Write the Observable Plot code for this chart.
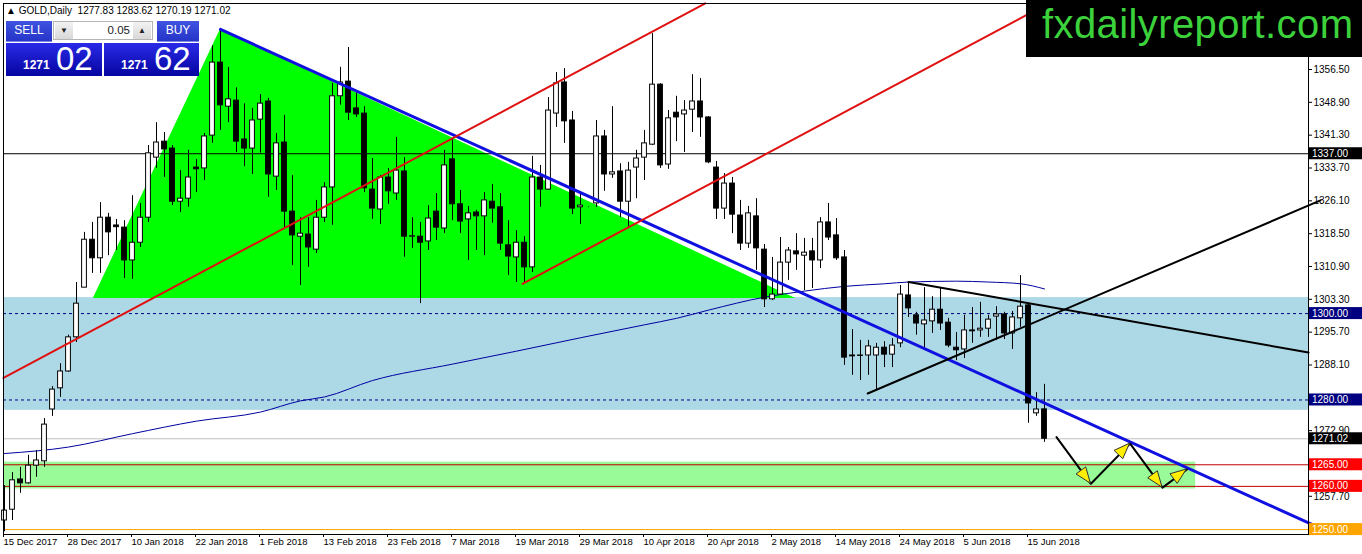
<!DOCTYPE html>
<html>
<head>
<meta charset="utf-8">
<script src="https://cdn.jsdelivr.net/npm/d3@7"></script>
<script src="https://cdn.jsdelivr.net/npm/@observablehq/plot@0.6"></script>
<style>
  body { margin: 0; background: #fff; }
  #wrap { position: relative; width: 1362px; height: 554px; overflow: hidden; font-family: "Liberation Sans", Arial, sans-serif; }
  #hdr { position: absolute; left: 6px; top: 4px; font-size: 10px; line-height: 13px; color: #000; white-space: pre; }
  .btn { position: absolute; top: 21px; height: 20px; color: #fff; font-size: 12px; line-height: 19px; text-align: center;
         background: linear-gradient(#3f52e0, #2535c8); border-bottom: 1px solid #7d8ae8; }
  #sell { left: 6px; width: 46px; }
  #buy { left: 157px; width: 42px; }
  #spin { position: absolute; left: 53px; top: 21px; width: 100px; height: 19px; background: #fff; border: 1px solid #b4b4b4; box-sizing: border-box; font-size: 11px; }
  #spin .a { position: absolute; top: 0; width: 18px; height: 17px; background: linear-gradient(#f2f2f2, #d8d8d8); text-align: center; line-height: 17px; font-size: 8px; color: #222; }
  #spin .v { position: absolute; right: 22px; top: 0; line-height: 17px; font-size: 11.5px; color: #222; }
  .px { position: absolute; top: 43px; height: 33px; background: linear-gradient(#2a2ae8, #0505a0); color: #fff; }
  .px small { position: absolute; top: 15px; font-size: 12px; font-weight: bold; }
  .px big { position: absolute; top: -3px; font-size: 33px; }
  #sp { left: 6px; width: 96px; }
  #bp { left: 104px; width: 95px; }
  #logo { position: absolute; left: 1026px; top: 0; width: 336px; height: 57px; background: #000; color: #3cd23c;
          font-size: 40px; line-height: 48px; padding-left: 16px; box-sizing: border-box; letter-spacing: 0.4px; }
</style>
</head>
<body>
<div id="wrap">
  <div id="chart"></div>
  <div id="hdr"></div>
  <div class="btn" id="sell">SELL</div>
  <div id="spin"><span class="a" style="left:1px">&#9660;</span><span class="v">0.05</span><span class="a" style="right:1px">&#9650;</span></div>
  <div class="btn" id="buy">BUY</div>
  <div class="px" id="sp"></div>
  <div class="px" id="bp"></div>
  <div id="logo">fxdailyreport.com</div>
</div>
<script>
// GOLD daily candles, 15 Dec 2017 .. 19 Jun 2018 (bar index 0..130)
const open = [1252.1,1254.6,1261.6,1260.7,1264.8,1265.8,1277.8,1282.7,1286.6,1294.5,
  1306.0,1317.1,1312.8,1322.2,1320.4,1319.9,1312.3,1316.4,1322.2,1336.1,
  1339.8,1338.2,1325.9,1326.6,1333.8,1333.6,1341.2,1358.1,1347.9,1349.3,
  1340.3,1338.2,1344.9,1349.1,1331.7,1339.6,1323.6,1317.8,1318.3,1314.8,
  1322.2,1329.2,1350.3,1353.7,1347.5,1346.3,1328.7,1324.1,1331.5,1327.8,
  1332.9,1317.8,1317.8,1316.7,1323.6,1319.7,1335.7,1325.3,1321.8,1323.4,
  1322.5,1325.9,1324.6,1315.8,1313.0,1316.4,1310.7,1331.5,1328.7,1346.3,
  1353.5,1344.7,1324.6,1324.6,1325.5,1341.0,1332.2,1332.9,1325.9,1333.8,
  1336.1,1339.1,1353.0,1334.5,1346.5,1346.1,1347.2,1349.1,1345.4,1333.8,
  1324.3,1330.1,1322.7,1316.2,1322.5,1314.8,1303.3,1304.4,1311.8,1314.4,
  1313.4,1314.4,1312.3,1321.1,1318.1,1313.0,1290.3,1290.3,1290.3,1290.3,
  1292.1,1290.5,1293.1,1304.2,1299.6,1297.5,1298.2,1300.9,1297.9,1292.1,
  1291.7,1296.1,1296.1,1296.5,1299.3,1299.8,1295.4,1298.9,1301.9,1276.9,
  1277.83]
const high = [1260.2,1263.2,1264.4,1267.2,1268.3,1275.7,1283.1,1288.4,1295.0,1307.2,
  1318.8,1321.1,1325.7,1323.2,1321.8,1321.5,1327.3,1325.5,1338.9,1344.2,
  1341.9,1338.9,1333.1,1337.8,1335.7,1341.7,1362.0,1365.8,1357.0,1352.3,
  1348.6,1347.5,1350.7,1349.8,1341.7,1345.9,1332.0,1322.2,1322.2,1326.2,
  1330.3,1353.3,1357.0,1361.6,1351.2,1347.9,1335.9,1332.0,1333.6,1340.8,
  1336.1,1322.2,1321.1,1325.0,1327.8,1337.8,1340.5,1328.5,1324.8,1323.9,
  1328.0,1329.9,1327.8,1321.5,1319.2,1317.8,1336.4,1334.3,1350.0,1355.8,
  1356.7,1346.8,1328.0,1324.7,1344.7,1342.4,1347.9,1334.7,1335.0,1337.8,
  1342.4,1364.8,1353.2,1347.0,1350.3,1349.3,1355.3,1354.4,1345.6,1335.2,
  1332.4,1331.5,1326.2,1324.8,1326.6,1316.0,1313.0,1317.6,1315.3,1318.5,
  1317.4,1317.4,1322.2,1325.5,1322.0,1314.6,1296.3,1293.8,1293.8,1293.1,
  1293.5,1294.2,1306.5,1307.2,1300.3,1306.0,1303.9,1306.0,1298.9,1295.6,
  1299.6,1301.4,1302.6,1299.6,1301.6,1300.3,1300.5,1308.8,1302.1,1281.7,
  1283.62]
const low = [1249.5,1252.1,1258.4,1260.5,1262.1,1264.4,1276.2,1280.6,1286.4,1293.3,
  1306.0,1309.3,1309.3,1313.4,1314.6,1308.1,1307.9,1315.3,1321.1,1333.6,
  1331.5,1325.0,1323.4,1324.6,1328.0,1330.8,1339.4,1342.4,1344.2,1337.3,
  1334.0,1332.2,1337.1,1326.9,1328.5,1319.9,1311.1,1306.5,1310.7,1313.9,
  1321.1,1320.4,1348.2,1344.7,1345.4,1328.0,1321.8,1320.6,1325.3,1326.2,
  1313.0,1315.1,1302.3,1314.6,1316.9,1318.5,1321.5,1318.5,1312.3,1314.6,
  1313.4,1320.9,1314.6,1308.8,1307.2,1307.0,1309.5,1324.6,1328.5,1343.1,
  1339.4,1322.9,1320.6,1324.5,1324.6,1328.3,1331.3,1322.2,1319.7,1326.6,
  1330.8,1338.9,1333.6,1333.4,1339.8,1337.3,1341.9,1340.8,1334.7,1321.8,
  1321.8,1318.5,1314.6,1315.1,1310.0,1301.4,1303.0,1304.2,1307.7,1310.0,
  1305.3,1305.8,1310.4,1316.9,1312.3,1288.0,1285.7,1284.5,1285.7,1282.2,
  1287.5,1287.5,1292.1,1299.1,1295.0,1292.1,1295.4,1296.1,1292.1,1289.1,
  1289.6,1293.1,1294.5,1294.5,1293.8,1294.0,1291.7,1296.8,1274.6,1276.2,
  1270.19]
const close = [1254.4,1261.4,1260.7,1264.8,1266.0,1274.3,1282.4,1286.6,1294.5,1302.3,
  1317.1,1312.8,1322.2,1318.8,1320.0,1312.3,1316.4,1322.2,1337.1,1339.6,
  1338.0,1325.9,1326.6,1331.5,1333.4,1341.0,1358.1,1348.2,1349.6,1339.8,
  1338.2,1344.7,1348.6,1332.2,1339.4,1323.6,1318.1,1318.5,1315.3,1322.2,
  1329.2,1350.3,1353.5,1346.5,1346.1,1329.0,1324.3,1331.5,1328.3,1333.1,
  1317.8,1317.9,1316.4,1322.0,1319.9,1334.3,1325.3,1321.3,1323.2,1322.5,
  1326.2,1324.3,1316.2,1313.2,1316.4,1310.7,1331.5,1328.7,1347.0,1353.3,
  1344.5,1324.3,1325.0,1324.6,1341.0,1332.2,1332.7,1325.9,1333.1,1335.9,
  1339.4,1353.0,1334.3,1345.2,1345.4,1347.0,1349.1,1345.4,1335.0,1324.3,
  1330.1,1322.9,1316.2,1323.2,1315.1,1303.3,1304.4,1311.8,1314.6,1313.7,
  1314.1,1312.3,1321.1,1317.6,1312.8,1289.8,1290.1,1290.2,1292.4,1292.1,
  1290.5,1292.6,1304.4,1301.2,1297.7,1298.4,1300.9,1297.7,1292.6,1291.5,
  1296.1,1295.9,1296.5,1298.6,1299.8,1295.4,1299.1,1301.6,1279.2,1277.8,
  1271.02]

const ask = 1271.62

// date axis: one label every 8 bars
const tickIdx = [0, 8, 16, 24, 32, 40, 48, 56, 64, 72, 80, 88, 96, 104, 112, 120, 128]
const tickLabels = ["15 Dec 2017", "28 Dec 2017", "10 Jan 2018", "22 Jan 2018", "1 Feb 2018", "13 Feb 2018",
  "23 Feb 2018", "7 Mar 2018", "19 Mar 2018", "29 Mar 2018", "10 Apr 2018", "20 Apr 2018", "2 May 2018",
  "14 May 2018", "24 May 2018", "5 Jun 2018", "15 Jun 2018"]
const priceTicks = [1356.5, 1348.9, 1341.3, 1333.7, 1326.1, 1318.5, 1310.9, 1303.3, 1295.7, 1288.1, 1272.9, 1257.7]

// moving average (bar index, price)
const maIdx = [0, 8, 16, 24, 32, 37, 40, 46, 56, 64, 72, 80, 84, 88, 95, 100, 105, 110, 113, 119, 123, 127, 130]
const maVal = [1267.6, 1269.1, 1272.2, 1275.1, 1277.2, 1279.8, 1280.7, 1284.5, 1288.3, 1291.3, 1294.4, 1297.4,
  1298.9, 1300.8, 1303.8, 1305.2, 1306.3, 1306.9, 1307.3, 1307.5, 1307.3, 1306.9, 1305.7]

// drawn objects
const blueZone = [1277.6, 1303.7]
const greenZone = [1259.4, 1265.6]
const greenZoneEnd = 148.9
const triIdx = [11.1, 27, 98.9]
const triTop = [1303.5, 1365.8, 1303.5]
const triBase = 1303.5
const blueTrend = [[27, 1365.8], [164.25, 1250.5]]
const redUpper = [[-0.125, 1285.1], [87.6, 1371.8]]
const redLower = [[64.75, 1306.9], [130.5, 1371.8]]
const blackUpper = [[113, 1307.3], [163, 1291.0]]
const blackLower = [[107.9, 1281.5], [164.5, 1326.2]]
const arrowPath = [[131.5, 1271.4], [135.8, 1260.6], [140.7, 1269.9], [144.75, 1259.7], [147.8, 1263.9]]
const levels = [
  {v: 1337, stroke: "#000", dash: null, tag: "#000"},
  {v: 1300, stroke: "#000080", dash: "3,3", tag: "#000080"},
  {v: 1280, stroke: "#000080", dash: "3,3", tag: "#000080"},
  {v: 1271.02, stroke: "#c0c0c0", dash: null, tag: "#000"},
  {v: 1265, stroke: "#c00000", dash: null, tag: "#ff0000"},
  {v: 1260, stroke: "#c00000", dash: null, tag: "#ff0000"},
  {v: 1250, stroke: "#ffa500", dash: null, tag: "#ffa500"}
]

const xDomain = [-0.125, 163]
const yDomain = [1248.86, 1371.78]

const bars = open.map((o, i) => ({i, o, h: high[i], l: low[i], c: close[i]}))
const ma = maIdx.map((i, k) => ({i, p: maVal[k]}))
const tri = triIdx.map((i, k) => ({i, p: triTop[k], b: triBase}))
const pts = a => a.map(([i, p]) => ({i, p}))

const chart = Plot.plot({
  width: 1362,
  height: 554,
  marginLeft: 3,
  marginRight: 54,
  marginTop: 3,
  marginBottom: 20,
  style: {fontFamily: "Liberation Sans, Arial, sans-serif", fontSize: "10px", background: "#fff", color: "#000"},
  x: {domain: xDomain, axis: null},
  y: {domain: yDomain, axis: null},
  marks: [
    Plot.rect([blueZone], {x1: xDomain[0], x2: xDomain[1], y1: d => d[0], y2: d => d[1], fill: "#add8e6"}),
    Plot.rect([greenZone], {x1: xDomain[0], x2: greenZoneEnd, y1: d => d[0], y2: d => d[1], fill: "#98fb98"}),
    Plot.areaY(tri, {x: "i", y1: "b", y2: "p", fill: "#00ff00"}),
    ...levels.map(l => Plot.ruleY([l.v], {stroke: l.stroke, strokeDasharray: l.dash})),
    Plot.line(ma, {x: "i", y: "p", stroke: "#0000a0", strokeWidth: 1, curve: "monotone-x"}),
    Plot.ruleX(bars, {x: "i", y1: "l", y2: "h", stroke: "#000"}),
    Plot.rect(bars, {x1: d => d.i - 0.3, x2: d => d.i + 0.3, y1: "o", y2: "c",
      fill: d => d.c >= d.o ? "#fff" : "#000", stroke: "#000", strokeWidth: 1}),
    Plot.line(pts(blueTrend), {x: "i", y: "p", stroke: "#1010e0", strokeWidth: 3}),
    Plot.line(pts(redUpper), {x: "i", y: "p", stroke: "#e01010", strokeWidth: 2}),
    Plot.line(pts(redLower), {x: "i", y: "p", stroke: "#e01010", strokeWidth: 2}),
    Plot.line(pts(blackUpper), {x: "i", y: "p", stroke: "#000", strokeWidth: 2}),
    Plot.line(pts(blackLower), {x: "i", y: "p", stroke: "#000", strokeWidth: 2}),
    Plot.line(pts(arrowPath), {x: "i", y: "p", stroke: "#000", strokeWidth: 2}),
    Plot.frame({stroke: "#000"}),
    Plot.axisY(priceTicks, {anchor: "right", tickSize: 3, tickPadding: 2, tickFormat: d => d.toFixed(2), label: null, fontSize: 10}),
    Plot.axisX(tickIdx, {anchor: "bottom", tickSize: 3, tickPadding: 1, label: null, fontSize: 9.5,
      tickFormat: d => tickLabels[tickIdx.indexOf(d)], textAnchor: "start", dx: -1})
  ]
})

d3.select("#chart").append(() => chart)

// arrow heads and price tags, placed with the plot's own scales
const sx = chart.scale("x"), sy = chart.scale("y")
const svg = d3.select(chart)
const heads = svg.append("g")
arrowPath.slice(1).forEach(([i, p], k) => {
  const [i0, p0] = arrowPath[k]
  const x1 = sx.apply(i), y1 = sy.apply(p), x0 = sx.apply(i0), y0 = sy.apply(p0)
  const len = Math.hypot(x1 - x0, y1 - y0), ux = (x1 - x0) / len, uy = (y1 - y0) / len
  const bx = x1 - ux * 16, by = y1 - uy * 16
  heads.append("polygon")
    .attr("points", [[x1, y1], [bx - uy * 6, by + ux * 6], [bx + uy * 6, by - ux * 6]].join(" "))
    .attr("fill", "#ffee00").attr("stroke", "#333").attr("stroke-width", 1)
})
const tags = svg.append("g").attr("font-size", 10).attr("text-anchor", "start")
levels.forEach(l => {
  const y = sy.apply(l.v)
  tags.append("rect").attr("x", 1309).attr("y", y - 6).attr("width", 53).attr("height", 12).attr("fill", l.tag)
  tags.append("text").attr("x", 1312).attr("y", y).attr("dy", "0.35em").attr("text-anchor", "start")
    .attr("fill", "#fff").text(l.v.toFixed(2))
})

// header widget
const last = close.length - 1
document.getElementById("hdr").textContent =
  "\u25B2 GOLD,Daily  " + [open[last], high[last], low[last], close[last]].map(v => v.toFixed(2)).join(" ")
const split = v => { const s = v.toFixed(2).split("."); return `<small style="left:17px">${s[0]}</small><big style="left:${s[0].length * 7 + 22}px">${s[1]}</big>` }
document.getElementById("sp").innerHTML = split(close[last])
document.getElementById("bp").innerHTML = split(ask)
</script>
</body>
</html>
